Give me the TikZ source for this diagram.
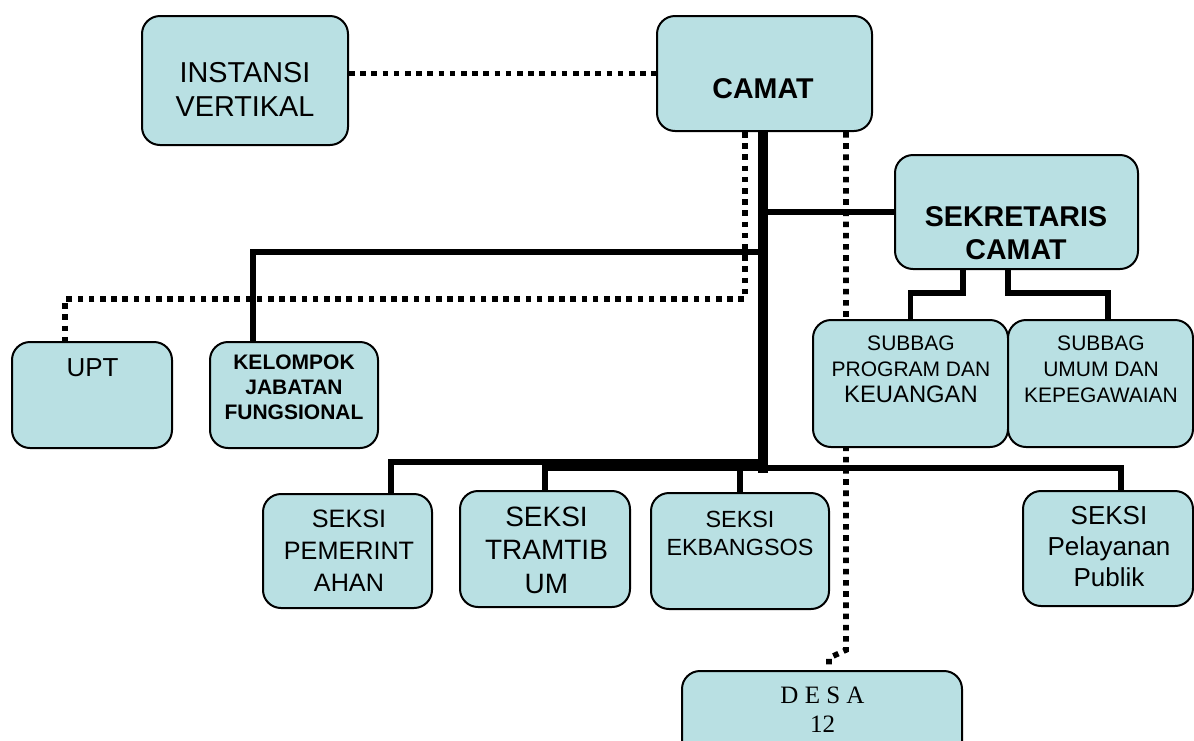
\documentclass[tikz,border=0pt]{standalone}
\usepackage{fontspec}
\setmainfont{Liberation Sans}
\newfontfamily\desafont{Liberation Serif}
\usetikzlibrary{backgrounds}
\definecolor{orgfill}{HTML}{B9E0E3}
\definecolor{orgline}{HTML}{000000}

\begin{document}
\begin{tikzpicture}[x=0.5pt, y=-0.5pt,
    unit/.style={draw=orgline, line width=1pt, rounded corners=9pt, fill=orgfill, inner sep=0pt},
    lbl/.style={align=center, inner sep=0pt, text=black},
    link/.style={draw=orgline, line width=2.75pt},
    trunk/.style={draw=orgline, line width=5.25pt},
    dots/.style={draw=orgline, line width=2.8pt, dash pattern=on 2.8pt off 2.8pt}
  ]
    \clip (0,0) rectangle (1194,740);

    \node[unit, minimum width=103pt,  minimum height=64.5pt] (instansi) at (245,80.5)    {};
    \node[unit, minimum width=107.5pt,minimum height=57.5pt] (camat)    at (764.5,73.5)  {};
    \node[unit, minimum width=121.5pt,minimum height=57pt]   (sekcam)   at (1016.5,212)  {};
    \node[unit, minimum width=80pt,   minimum height=53pt]   (upt)      at (92,395)      {};
    \node[unit, minimum width=84pt,   minimum height=53pt]   (kjf)      at (294,395)     {};
    \node[unit, minimum width=97.5pt, minimum height=63.5pt] (subprog)  at (910.5,383.5) {};
    \node[unit, minimum width=92.5pt, minimum height=63.5pt] (subumum)  at (1100.5,383.5){};
    \node[unit, minimum width=84.5pt, minimum height=57pt]   (pem)      at (347.5,551)   {};
    \node[unit, minimum width=85pt,   minimum height=58pt]   (tram)     at (545,549)     {};
    \node[unit, minimum width=89pt,   minimum height=58pt]   (ekb)      at (740,551)     {};
    \node[unit, minimum width=85pt,   minimum height=57.5pt] (pel)      at (1108,548.5)  {};
    \node[unit, minimum width=140pt,  minimum height=59.5pt] (desa)     at (822,730.5)   {};

    \node[lbl, font=\fontsize{14.4}{17}\selectfont] (instansi-t) at (245,89.5) {INSTANSI\\VERTIKAL};
    \node[lbl, font=\bfseries\fontsize{14.3}{16.5}\selectfont] (camat-t) at (763,88.5) {CAMAT};
    \node[lbl, font=\bfseries\fontsize{14.3}{16.5}\selectfont] (sekcam-t) at (1016,233.5) {SEKRETARIS\\CAMAT};
    \node[lbl, font=\fontsize{13}{15}\selectfont] (upt-t) at (92.5,367.5) {UPT};
    \node[lbl, font=\bfseries\fontsize{10.5}{12.5}\selectfont] (kjf-t) at (294,387.5) {KELOMPOK\\JABATAN\\FUNGSIONAL};
    \node[lbl, font=\fontsize{10.5}{13}\selectfont] (subprog-t) at (911,369) {SUBBAG\\PROGRAM DAN\\{\fontsize{11.9}{13}\selectfont KEUANGAN}};
    \node[lbl, font=\fontsize{10.5}{13}\selectfont] (subumum-t) at (1101,369) {SUBBAG\\UMUM DAN\\KEPEGAWAIAN};
    \node[lbl, font=\fontsize{12.6}{16}\selectfont] (pem-t) at (349,551) {SEKSI\\PEMERINT\\AHAN};
    \node[lbl, font=\fontsize{14}{16.75}\selectfont] (tram-t) at (546.5,550) {SEKSI\\TRAMTIB\\UM};
    \node[lbl, font=\fontsize{11.7}{14}\selectfont] (ekb-t) at (740,533.5) {SEKSI\\EKBANGSOS};
    \node[lbl, font=\fontsize{13}{15.5}\selectfont] (pel-t) at (1109,546.5) {SEKSI\\Pelayanan\\Publik};
    \node[lbl, font=\desafont\fontsize{12.5}{14.5}\selectfont] (desa-t) at (822.5,710) {D E S A\\12};

    \coordinate (jkjf) at (763,252);
    \coordinate (jpem) at (765,462);
    \coordinate (jupt) at (745,299);
    \coordinate (jdesa) at (846,650);

    \begin{scope}[on background layer]
      \draw[dots] (camat.west -| instansi.east) -- (camat.west);
      \draw[dots] ([xshift=-9.75pt]camat.south) -- (jupt) -| ([xshift=-13.5pt]upt.north);
      \draw[dots] ([xshift=40.75pt]camat.south) -- (jdesa) -- ++(-17,8) -- ([xshift=3.5pt]desa.north);
      \draw[trunk] ([xshift=-0.75pt]camat.south) -- ++(0,341);
      \draw[link] (sekcam.west) -- (sekcam.west -| camat.south);
      \draw[link] ([xshift=-20.5pt]kjf.north) |- (jkjf);
      \draw[link] ([xshift=-26.75pt]sekcam.south) -- ++(0,23) -| (subprog.north);
      \draw[link] ([xshift=-4.25pt]sekcam.south) -- ++(0,23) -| ([xshift=3.75pt]subumum.north);
      \draw[link] ([xshift=21.75pt]pem.north) |- (jpem);
      \draw[link] (tram.north) -- ++(0,-22) -| ([xshift=6.5pt]pel.north);
      \draw[link] (ekb.north) -- ++(0,-24);
    \end{scope}
\end{tikzpicture}
\end{document}
